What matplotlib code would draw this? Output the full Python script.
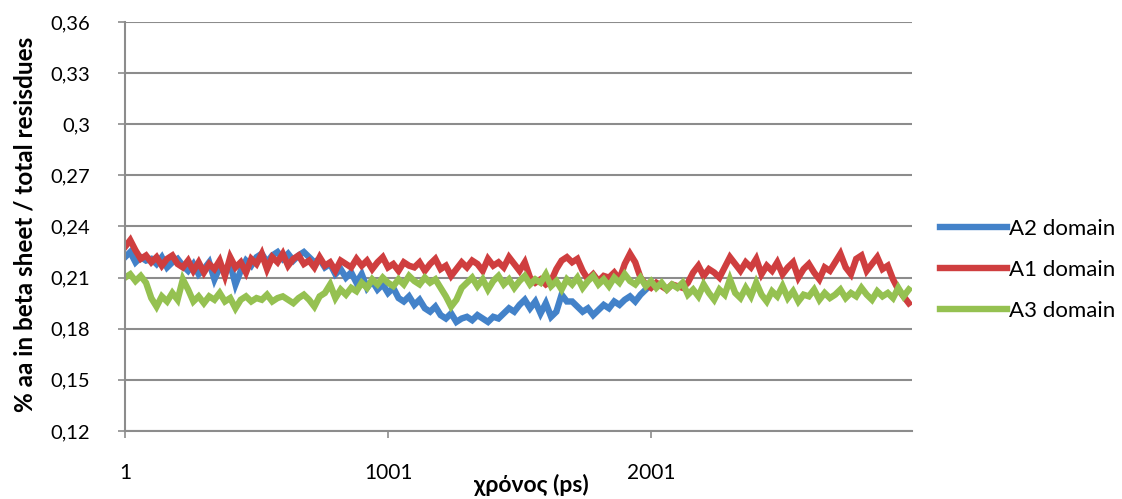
import numpy as np
import matplotlib
matplotlib.use("Agg")
import matplotlib.pyplot as plt
from matplotlib.ticker import FixedLocator, FuncFormatter

plt.rcParams['font.family'] = ['Lato', 'DejaVu Sans']

# fraction of residues in beta sheet, sampled every 20 ps
step_ps = 20

a2_domain = [
    0.222, 0.225, 0.219, 0.222, 0.220,
    0.221, 0.218, 0.222, 0.216, 0.219, 0.221, 0.217, 0.214, 0.218, 0.212,
    0.215, 0.219, 0.209, 0.216, 0.213, 0.218, 0.206, 0.214, 0.220, 0.217,
    0.222, 0.224, 0.219, 0.223, 0.225, 0.221, 0.224, 0.220, 0.223, 0.225,
    0.222, 0.219, 0.221, 0.216, 0.218, 0.212, 0.215, 0.210, 0.213, 0.207,
    0.212, 0.204, 0.208, 0.203, 0.206, 0.201, 0.204, 0.198, 0.196, 0.199,
    0.194, 0.197, 0.192, 0.190, 0.193, 0.188, 0.186, 0.189, 0.184, 0.186,
    0.187, 0.185, 0.188, 0.186, 0.184, 0.187, 0.186, 0.189, 0.192, 0.190,
    0.194, 0.197, 0.192, 0.196, 0.189, 0.195, 0.187, 0.190, 0.200, 0.196,
    0.196, 0.193, 0.190, 0.192, 0.188, 0.191, 0.194, 0.192, 0.196, 0.194,
    0.197, 0.199, 0.196, 0.200, 0.203,
]

a1_domain = [
    0.228, 0.232, 0.226, 0.221, 0.223,
    0.219, 0.222, 0.217, 0.221, 0.223, 0.218, 0.216, 0.220, 0.214, 0.219,
    0.213, 0.218, 0.215, 0.220, 0.211, 0.222, 0.216, 0.219, 0.213, 0.221,
    0.218, 0.224, 0.215, 0.222, 0.219, 0.224, 0.217, 0.221, 0.223, 0.218,
    0.220, 0.216, 0.222, 0.217, 0.219, 0.214, 0.220, 0.218, 0.216, 0.221,
    0.217, 0.220, 0.215, 0.219, 0.222, 0.216, 0.218, 0.214, 0.219, 0.217,
    0.216, 0.219, 0.214, 0.218, 0.221, 0.215, 0.217, 0.211, 0.215, 0.219,
    0.216, 0.220, 0.218, 0.214, 0.221, 0.217, 0.219, 0.216, 0.222, 0.218,
    0.214, 0.219, 0.210, 0.207, 0.209, 0.206, 0.208, 0.215, 0.220, 0.222,
    0.219, 0.221, 0.214, 0.209, 0.212, 0.208, 0.211, 0.210, 0.213, 0.209,
    0.218, 0.224, 0.219, 0.210, 0.206, 0.204, 0.207, 0.205, 0.203, 0.206,
    0.205, 0.204, 0.207, 0.213, 0.217, 0.211, 0.215, 0.213, 0.210, 0.216,
    0.222, 0.218, 0.214, 0.219, 0.216, 0.221, 0.212, 0.217, 0.214, 0.219,
    0.212, 0.216, 0.219, 0.210, 0.215, 0.218, 0.213, 0.209, 0.216, 0.214,
    0.219, 0.224, 0.216, 0.212, 0.221, 0.223, 0.214, 0.218, 0.222, 0.215,
    0.217, 0.209, 0.203, 0.199, 0.195,
]

a3_domain = [
    0.210, 0.212, 0.208, 0.211, 0.207,
    0.198, 0.193, 0.199, 0.196, 0.201, 0.197, 0.209, 0.203, 0.196, 0.199,
    0.195, 0.199, 0.197, 0.201, 0.196, 0.198, 0.192, 0.197, 0.199, 0.196,
    0.198, 0.197, 0.200, 0.196, 0.198, 0.199, 0.197, 0.195, 0.198, 0.200,
    0.197, 0.193, 0.199, 0.201, 0.206, 0.198, 0.203, 0.200, 0.204, 0.202,
    0.207, 0.204, 0.209, 0.206, 0.210, 0.207, 0.205, 0.209, 0.206, 0.211,
    0.208, 0.206, 0.210, 0.207, 0.209, 0.204, 0.199, 0.193, 0.197, 0.204,
    0.207, 0.210, 0.205, 0.209, 0.203, 0.208, 0.211, 0.206, 0.209, 0.204,
    0.208, 0.211, 0.206, 0.209, 0.207, 0.212, 0.205, 0.208, 0.203, 0.209,
    0.206, 0.210, 0.204, 0.208, 0.211, 0.206, 0.209, 0.205, 0.210, 0.207,
    0.212, 0.208, 0.206, 0.210, 0.205, 0.208, 0.204, 0.207, 0.203, 0.206,
    0.204, 0.207, 0.200, 0.203, 0.199, 0.206, 0.201, 0.197, 0.203, 0.200,
    0.209, 0.201, 0.198, 0.204, 0.199, 0.207, 0.200, 0.196, 0.202, 0.199,
    0.205, 0.198, 0.202, 0.196, 0.200, 0.199, 0.203, 0.197, 0.201, 0.198,
    0.200, 0.203, 0.198, 0.201, 0.199, 0.204, 0.200, 0.197, 0.202, 0.199,
    0.201, 0.198, 0.204, 0.199, 0.203,
]

series = [
    ("A2 domain", a2_domain, "#4382C9"),
    ("A1 domain", a1_domain, "#CF3E3F"),
    ("A3 domain", a3_domain, "#95C151"),
]

y_ticks = [0.12, 0.15, 0.18, 0.21, 0.24, 0.27, 0.30, 0.33, 0.36]
x_ticks = [1, 1001, 2001]

grid_grey = "#8C8C8C"

fig = plt.figure(figsize=(11.22, 4.99), dpi=100)
ax = fig.add_axes([0.1114, 0.1363, 0.7014, 0.8196])

for name, vals, col in series:
    t = np.arange(len(vals)) * step_ps + 1
    ax.plot(t, vals, color=col, lw=4.6, label=name, solid_joinstyle="miter")

ax.set_xlim(1, 2993)
ax.set_ylim(0.12, 0.36)

ax.yaxis.set_major_locator(FixedLocator(y_ticks))
ax.yaxis.set_major_formatter(FuncFormatter(lambda v, p: f"{round(v, 2):g}".replace(".", ",")))
ax.xaxis.set_major_locator(FixedLocator(x_ticks))

ax.grid(axis="y", color=grid_grey, lw=1.5)
ax.set_axisbelow(True)
for s in ("top", "right"):
    ax.spines[s].set_visible(False)
for s in ("left", "bottom"):
    ax.spines[s].set_color(grid_grey)
    ax.spines[s].set_linewidth(1.5)

ax.tick_params(axis="y", length=5, width=1.2, color=grid_grey, labelsize=14.5, pad=20)
ax.tick_params(axis="x", length=5, width=1.2, color=grid_grey, labelsize=15, pad=18)

ax.set_xlabel("χρόνος (ps)", fontsize=16.5, fontweight="bold")
ax.xaxis.set_label_coords(0.516, -0.104)
ax.set_ylabel("% aa in beta sheet / total resisdues", fontsize=17.5, fontweight="bold")
ax.yaxis.set_label_coords(-0.112, 0.505)

ax.legend(loc="center left", bbox_to_anchor=(0.838, 0.459),
          bbox_transform=fig.transFigure, frameon=False, fontsize=16,
          handlelength=3.0, handletextpad=0.1, labelspacing=0.95,
          borderpad=0, borderaxespad=0)

fig.savefig("out.png", dpi=100)
